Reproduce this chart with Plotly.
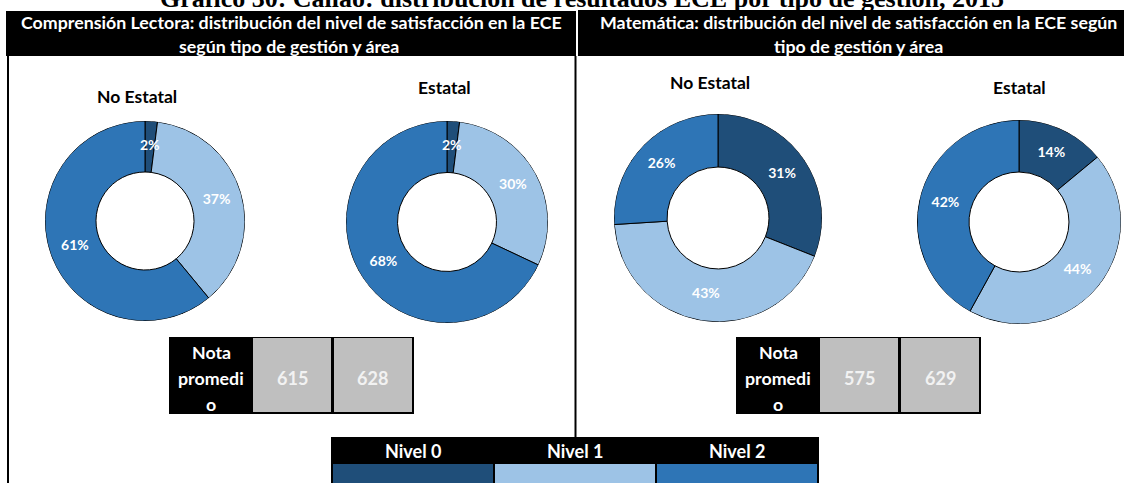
import plotly.graph_objects as go

W, H = 1131, 483

# ---- data ----
niveles = ["Nivel 0", "Nivel 1", "Nivel 2"]
colores = ["#1F4E79", "#9DC3E6", "#2E75B6"]

titulo = "Gráfico 30: Callao: distribución de resultados ECE por tipo de gestión, 2015"
paneles = [
    ["Comprensión Lectora: distribución del nivel de satisfacción en la ECE",
     "según tipo de gestión y área"],
    ["Matemática: distribución del nivel de satisfacción en la ECE según",
     "tipo de gestión y área"],
]
gestiones = ["No Estatal", "Estatal"]

lectura_no_estatal = [2, 37, 61]
lectura_estatal = [2, 30, 68]
matematica_no_estatal = [31, 43, 26]
matematica_estatal = [14, 44, 42]

nota_etiqueta = ["Nota", "promedi", "o"]
nota_lectura = [615, 628]
nota_matematica = [575, 629]

FONT = "Lato"


def X(p):
    return p / W


def Y(p):
    return 1 - p / H


fig = go.Figure()

# donut layout: (values, centre x, centre y, outer radius, title, title x, title y)
donas = [
    (lectura_no_estatal, 145, 221, 100, gestiones[0], 137, 97),
    (lectura_estatal, 447, 222, 101, gestiones[1], 444, 87),
    (matematica_no_estatal, 718, 218, 104, gestiones[0], 710, 82),
    (matematica_estatal, 1019, 222, 102, gestiones[1], 1019, 87),
]

HOLE = 0.49
polar_layout = {}
for k, (vals, cx, cy, r, tit, tx, ty) in enumerate(donas, start=1):
    name = "polar" if k == 1 else f"polar{k}"
    total = sum(vals)
    anchos = [v / total * 360 for v in vals]
    centros = []
    acum = 0
    for a in anchos:
        centros.append(acum + a / 2)
        acum += a
    # ring segments, clockwise from 12 o'clock
    fig.add_trace(go.Barpolar(
        r=[1 - HOLE] * len(vals), base=HOLE, theta=centros, width=anchos,
        marker=dict(color=colores, line=dict(color="black", width=1)),
        subplot=name, showlegend=False, hovertext=niveles, hoverinfo="text",
    ))
    # percentage labels on the middle of the ring
    fig.add_trace(go.Scatterpolar(
        r=[(1 + HOLE) / 2] * len(vals), theta=centros, mode="text",
        text=[f"<b>{v}%</b>" for v in vals],
        textfont=dict(family=FONT, size=14, color="white"),
        subplot=name, showlegend=False, hoverinfo="skip",
    ))
    polar_layout[name] = dict(
        domain=dict(x=[X(cx - r), X(cx + r)], y=[Y(cy + r), Y(cy - r)]),
        bgcolor="rgba(0,0,0,0)",
        radialaxis=dict(visible=False, range=[0, 1], showgrid=False),
        angularaxis=dict(visible=False, rotation=90, direction="clockwise",
                         showgrid=False),
    )

shapes = []
ann = []


def rect(x0, y0, x1, y1, color):
    shapes.append(dict(type="rect", xref="paper", yref="paper",
                       x0=X(x0), x1=X(x1), y0=Y(y1), y1=Y(y0),
                       fillcolor=color, line=dict(width=0), layer="below"))


def line(x0, y0, x1, y1, w=2):
    shapes.append(dict(type="line", xref="paper", yref="paper",
                       x0=X(x0), x1=X(x1), y0=Y(y0), y1=Y(y1),
                       line=dict(color="black", width=w), layer="below"))


def text(s, x, y, size=18, color="white", family=FONT, bold=True):
    ann.append(dict(text=f"<b>{s}</b>" if bold else s, x=X(x), y=Y(y),
                    xref="paper", yref="paper", showarrow=False,
                    xanchor="center", yanchor="middle",
                    font=dict(family=family, size=size, color=color)))


# main title
text(titulo, 582, -1, size=26, color="black", family="Liberation Serif")

# panel headers
rect(6, 11, 576, 56, "black")
rect(578, 10, 1124, 56, "black")
text(paneles[0][0], 291, 22, size=17.8)
text(paneles[0][1], 289, 46, size=17.8)
text(paneles[1][0], 858, 22, size=17.8)
text(paneles[1][1], 858, 46, size=17.8)

# panel frame lines
line(8, 56, 8, 483)
line(575.5, 56, 575.5, 437)

# donut titles
for vals, cx, cy, r, tit, tx, ty in donas:
    text(tit, tx, ty, size=17.5, color="black")

# average score tables
tablas = [(169, nota_lectura), (736, nota_matematica)]
for x0, notas in tablas:
    rect(x0, 337, x0 + 245, 414, "black")
    rect(x0 + 84, 338, x0 + 162, 412, "#BFBFBF")
    rect(x0 + 165, 338, x0 + 243, 412, "#BFBFBF")
    for i, s in enumerate(nota_etiqueta):
        text(s, x0 + 42, 352 + i * 26, size=17.8)
    text(str(notas[0]), x0 + 123, 378, size=18, color="#F2F2F2")
    text(str(notas[1]), x0 + 204, 378, size=18, color="#F2F2F2")

# level legend
rect(331, 437, 819, 483, "black")
sw = [(333, 493), (495, 655), (657, 817)]
for (a, b), nombre, col in zip(sw, niveles, colores):
    rect(a, 464, b, 483, col)
    text(nombre, (a + b) / 2, 451, size=18)

fig.update_layout(
    width=W, height=H, margin=dict(l=0, r=0, t=0, b=0),
    paper_bgcolor="white", plot_bgcolor="white",
    shapes=shapes, annotations=ann,
    xaxis=dict(visible=False), yaxis=dict(visible=False),
    **polar_layout,
)

fig.write_html("out.html")
